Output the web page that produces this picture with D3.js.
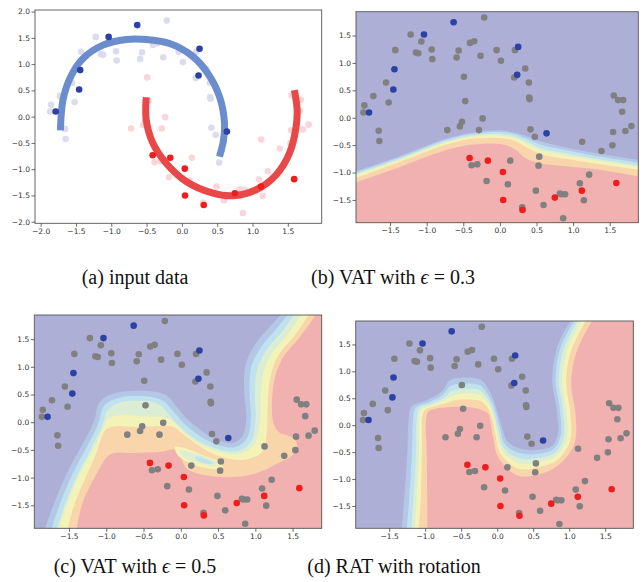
<!DOCTYPE html>
<html>
<head>
<meta charset="utf-8">
<script src="https://cdn.jsdelivr.net/npm/d3@7"></script>
<style>
  body { margin: 0; background: #fff; }
</style>
</head>
<body>
<svg width="642" height="582"></svg>
<script>
// ---- data ----

// labelled points
var labeledBlue = [[-1.787,0.097],[-1.455,0.516],[-1.44,0.886],[-1.037,1.518],[-0.632,1.743],[0.25,1.293],[0.236,0.783],[0.637,-0.285]];
var labeledRed = [[-0.414,-0.735],[-0.164,-0.783],[0.041,-0.99],[0.045,-1.50],[0.309,-1.682],[0.75,-1.457],[1.119,-1.33],[1.59,-1.19]];

// unlabelled points, upper moon / lower moon
var unlabeledUpper = [[-0.214,1.828],[-1.219,1.518],[-1.073,1.39],[-1.146,1.19],[-1.114,1.178],[-1.428,1.233],[-0.932,1.245],[-0.923,1.069],
  [-1.555,0.644],[-1.519,0.279],[-1.728,0.395],[-1.851,0.225],[-1.864,0.097],[-1.655,-0.237],[-1.646,-0.425],[-0.564,1.226],[-0.591,1.099],
  [-0.409,1.366],[-0.35,1.396],[-0.264,1.129],[-0.045,1.233],[0.014,1.038],[0.205,1.233],[0.196,0.735],[0.346,0.899],[0.396,0.644],
  [0.40,0.37],[0.405,0.34],[0.418,-0.212],[0.477,-0.346],[0.537,-0.71],[0.528,-0.874]];
var unlabeledLower = [[-0.491,0.747],[-0.473,0.304],[-0.518,-0.073],[-0.546,-0.158],[-0.718,-0.225],[-0.236,-0.012],[-0.286,-0.225],
  [-0.387,-0.868],[-0.309,-0.85],[-0.182,-1.154],[0.141,-0.783],[0.109,-1.214],[0.491,-1.33],[0.596,-1.591],[0.305,-1.633],[0.819,-1.384],
  [0.841,-1.396],[0.891,-1.396],[0.864,-1.834],[1.091,-1.196],[1.146,-1.506],[1.219,-1.038],[1.123,-0.437],[1.387,-0.607],[1.537,-0.504],
  [1.546,-0.261],[1.555,0.407],[1.614,0.322],[1.683,0.322],[1.669,0.109],[1.714,-0.243],[1.796,-0.152]];

// guide arcs of panel (a)
var blueArc = [[-1.72,-0.26],[-1.684,0.316],[-1.58,0.747],[-1.40,1.108],[-1.118,1.361],[-0.788,1.468],[-0.505,1.468],[-0.175,1.392],
  [0.132,1.171],[0.368,0.823],[0.533,0.38],[0.604,-0.127],[0.59,-0.443],[0.533,-0.76]];
var redArc = [[-0.505,0.367],[-0.505,-0.063],[-0.41,-0.506],[-0.222,-0.886],[0.061,-1.234],[0.439,-1.456],[0.722,-1.506],[1.052,-1.392],
  [1.335,-1.108],[1.524,-0.696],[1.618,-0.19],[1.632,0.127],[1.594,0.506]];

// panel (b) level lines: x stations and y of each level
var bX = [-2.1,-1.41,-0.73,-0.36,0,0.2,0.35,0.55,0.86,1.32,2.0];
var bL1 = [-1.03,-0.72,-0.38,-0.27,-0.23,-0.27,-0.33,-0.43,-0.53,-0.65,-0.79];
var bL2 = [-1.06,-0.745,-0.40,-0.29,-0.26,-0.30,-0.37,-0.49,-0.58,-0.70,-0.84];
var bL3 = [-1.09,-0.77,-0.43,-0.32,-0.30,-0.34,-0.42,-0.55,-0.64,-0.75,-0.89];
var bL4 = [-1.11,-0.79,-0.45,-0.34,-0.33,-0.37,-0.46,-0.59,-0.68,-0.78,-0.92];
var bL5 = [-1.16,-0.83,-0.49,-0.38,-0.37,-0.42,-0.53,-0.66,-0.74,-0.84,-0.97];
var bL6 = [-1.24,-0.92,-0.59,-0.49,-0.48,-0.57,-0.74,-0.83,-0.88,-0.94,-1.10];

// panel (c) level lines, bottom edge to top edge
var cL1 = [[-1.845,-2.02],[-1.711,-1.506],[-1.531,-0.932],[-1.352,-0.478],[-1.218,-0.145],[-1.151,0.067],[-1.12,0.278],[-1.039,0.43],[-0.86,0.532],[-0.591,0.569],[-0.322,0.545],[-0.166,0.46],[-0.054,0.278],[0.081,0.067],[0.305,-0.175],[0.528,-0.339],[0.708,-0.375],[0.833,-0.236],[0.878,0.097],[0.851,0.52],[0.864,1.004],[0.976,1.367],[1.2,1.73],[1.42,2.05]];
var cL2 = [[-1.755,-2.02],[-1.63,-1.506],[-1.451,-0.932],[-1.281,-0.496],[-1.155,-0.175],[-1.093,0.024],[-1.061,0.218],[-0.985,0.351],[-0.815,0.448],[-0.591,0.472],[-0.358,0.448],[-0.224,0.375],[-0.107,0.206],[0.045,-0.024],[0.278,-0.266],[0.528,-0.424],[0.734,-0.448],[0.887,-0.29],[0.94,0.085],[0.922,0.508],[0.94,0.974],[1.057,1.319],[1.281,1.682],[1.50,2.05]];
var cL3 = [[-1.684,-2.02],[-1.558,-1.506],[-1.379,-0.932],[-1.218,-0.52],[-1.102,-0.206],[-1.039,-0.012],[-1.003,0.169],[-0.927,0.278],[-0.793,0.363],[-0.591,0.387],[-0.39,0.369],[-0.26,0.29],[-0.152,0.127],[0.013,-0.115],[0.26,-0.357],[0.528,-0.496],[0.761,-0.52],[0.94,-0.357],[1.003,0.048],[0.994,0.49],[1.021,0.944],[1.137,1.277],[1.361,1.64],[1.58,2.05]];
var cL4 = [[-1.657,-2.02],[-1.531,-1.506],[-1.352,-0.932],[-1.191,-0.538],[-1.084,-0.236],[-1.03,-0.073],[-0.972,0.067],[-0.815,0.127],[-0.591,0.109],[-0.367,0.097],[-0.21,0.085],[-0.099,0.006],[0.036,-0.175],[0.26,-0.399],[0.528,-0.538],[0.779,-0.569],[0.976,-0.417],[1.066,0.006],[1.075,0.46],[1.111,0.914],[1.227,1.246],[1.451,1.609],[1.67,2.05]];
var cL5 = [[-1.531,-2.02],[-1.433,-1.506],[-1.254,-0.932],[-1.128,-0.538],[-1.061,-0.266],[-1.003,-0.133],[-0.882,-0.073],[-0.591,-0.085],[-0.322,-0.073],[-0.099,-0.085],[0.081,-0.266],[0.305,-0.478],[0.551,-0.629],[0.842,-0.678],[1.088,-0.538],[1.155,-0.145],[1.169,0.399],[1.209,0.853],[1.312,1.216],[1.536,1.579],[1.77,2.05]];
var cL6 = [[-1.406,-2.02],[-1.33,-1.506],[-1.128,-0.932],[-0.949,-0.581],[-0.636,-0.557],[-0.278,-0.538],[-0.054,-0.508],[0.081,-0.841],[0.349,-0.962],[0.618,-0.992],[0.887,-0.962],[1.111,-0.871],[1.29,-0.75],[1.469,-0.629],[1.558,-0.478],[1.536,-0.327],[1.424,-0.236],[1.312,-0.175],[1.245,-0.024],[1.222,0.339],[1.267,0.823],[1.379,1.186],[1.603,1.549],[1.87,2.05]];
// small island inside the orange zone of (c)
var cIsland1 = [[-0.076,-0.448],[0.081,-0.478],[0.305,-0.599],[0.528,-0.72],[0.564,-0.811],[0.439,-0.847],[0.215,-0.786],[0.036,-0.678],[-0.054,-0.569]];
var cIsland2 = [[-0.009,-0.508],[0.17,-0.557],[0.349,-0.641],[0.492,-0.738],[0.439,-0.793],[0.26,-0.738],[0.081,-0.659],[0,-0.581]];
var cIsland3 = [[0.193,-0.617],[0.327,-0.666],[0.439,-0.738],[0.372,-0.756],[0.237,-0.702]];

// panel (d) level lines, bottom edge to top edge
var dL1 = [[-1.335,-2.05],[-1.294,-1.394],[-1.247,-0.465],[-1.229,0.093],[-1.187,0.353],[-0.98,0.465],[-0.773,0.62],[-0.657,0.836],[-0.426,0.886],[-0.219,0.836],[-0.113,0.651],[-0.034,0.403],[0.058,0],[0.15,-0.31],[0.356,-0.446],[0.589,-0.452],[0.773,-0.372],[0.847,-0.124],[0.819,0.341],[0.764,0.836],[0.819,1.394],[0.966,1.828],[1.096,2.05]];
var dL2 = [[-1.266,-2.05],[-1.224,-1.394],[-1.183,-0.465],[-1.169,0.093],[-1.132,0.328],[-0.952,0.428],[-0.763,0.558],[-0.639,0.737],[-0.426,0.775],[-0.233,0.737],[-0.131,0.576],[-0.048,0.353],[0.035,-0.043],[0.118,-0.366],[0.34,-0.527],[0.589,-0.527],[0.792,-0.434],[0.884,-0.161],[0.865,0.322],[0.81,0.824],[0.865,1.382],[1.013,1.815],[1.142,2.05]];
var dL3 = [[-1.201,-2.05],[-1.164,-1.394],[-1.127,-0.465],[-1.118,0.093],[-1.086,0.31],[-0.925,0.397],[-0.754,0.496],[-0.62,0.638],[-0.426,0.675],[-0.242,0.651],[-0.14,0.502],[-0.062,0.297],[0.012,-0.087],[0.09,-0.421],[0.321,-0.62],[0.589,-0.607],[0.81,-0.502],[0.925,-0.204],[0.911,0.297],[0.856,0.812],[0.911,1.363],[1.059,1.803],[1.188,2.05]];
var dL4 = [[-1.155,-2.05],[-1.118,-1.394],[-1.086,-0.465],[-1.081,0.093],[-1.049,0.291],[-0.902,0.372],[-0.749,0.446],[-0.607,0.551],[-0.426,0.589],[-0.242,0.564],[-0.145,0.434],[-0.071,0.248],[-0.006,-0.124],[0.067,-0.465],[0.307,-0.713],[0.589,-0.682],[0.824,-0.564],[0.967,-0.242],[0.957,0.279],[0.902,0.805],[0.957,1.345],[1.105,1.797],[1.234,2.05]];
var dL5 = [[-1.095,-2.05],[-1.063,-1.394],[-1.044,-0.465],[-1.044,0.093],[-1.012,0.273],[-0.879,0.347],[-0.74,0.397],[-0.588,0.465],[-0.426,0.477],[-0.242,0.452],[-0.14,0.341],[-0.085,0.192],[-0.025,-0.167],[0.044,-0.52],[0.289,-0.805],[0.589,-0.775],[0.842,-0.638],[1.013,-0.285],[1.013,0.248],[0.957,0.793],[1.013,1.326],[1.165,1.784],[1.294,2.05]];
var dL6 = [[-0.971,-2.05],[-0.971,-1.394],[-0.98,-0.465],[-0.989,0.093],[-0.957,0.248],[-0.842,0.31],[-0.726,0.328],[-0.565,0.341],[-0.426,0.341],[-0.242,0.291],[-0.126,0.217],[-0.103,0.124],[-0.057,-0.217],[0.012,-0.589],[0.266,-0.929],[0.589,-0.911],[0.865,-0.725],[1.073,-0.341],[1.087,0.217],[1.027,0.775],[1.087,1.301],[1.243,1.766],[1.373,2.05]];

// tick labels
var ticksA = [-2.0,-1.5,-1.0,-0.5,0.0,0.5,1.0,1.5];
var ticksAy = [-2.0,-1.5,-1.0,-0.5,0.0,0.5,1.0,1.5,2.0];
var ticksB = [-1.5,-1.0,-0.5,0.0,0.5,1.0,1.5];

var captions = ["(a) input data", "(b) VAT with ", "(c) VAT with ", "(d) RAT with rotation"];

// ---- styles ----
var baseColor = "#adafd6";
var bandColors = ["#b3c7e6", "#c0e2ee", "#dbeed4", "#f4f3b7", "#f8d5aa", "#f2b1b1"];

var svg = d3.select("svg");
var fmt = d3.format(".1f");
var clipN = 0;

function makePanel(box, xDom, yDom) {
  var x = d3.scaleLinear().domain(xDom).range([box.l, box.r]);
  var y = d3.scaleLinear().domain(yDom).range([box.b, box.t]);
  var id = "clip" + (clipN++);
  svg.append("clipPath").attr("id", id).append("rect")
    .attr("x", box.l).attr("y", box.t)
    .attr("width", box.r - box.l).attr("height", box.b - box.t);
  var plot = svg.append("g").attr("clip-path", "url(#" + id + ")");
  return { x: x, y: y, box: box, plot: plot };
}

function finishPanel(p, xt, yt) {
  svg.append("rect")
    .attr("x", p.box.l).attr("y", p.box.t)
    .attr("width", p.box.r - p.box.l).attr("height", p.box.b - p.box.t)
    .attr("fill", "none").attr("stroke", "#555").attr("stroke-width", 0.9);
  var ax = svg.append("g").attr("transform", "translate(0," + p.box.b + ")")
    .call(d3.axisBottom(p.x).tickValues(xt).tickFormat(fmt).tickSize(3.5).tickPadding(1.5));
  var ay = svg.append("g").attr("transform", "translate(" + p.box.l + ",0)")
    .call(d3.axisLeft(p.y).tickValues(yt).tickFormat(fmt).tickSize(3.5).tickPadding(1.5));
  [ax, ay].forEach(function (a) {
    a.attr("font-size", 7.5).attr("font-family", "DejaVu Sans, sans-serif");
    a.select(".domain").remove();
    a.selectAll("line").attr("stroke", "#444").attr("stroke-width", 0.8);
    a.selectAll("text").attr("fill", "#333");
  });
}

function drawBands(p, levels, corners) {
  p.plot.append("rect")
    .attr("x", p.box.l).attr("y", p.box.t)
    .attr("width", p.box.r - p.box.l).attr("height", p.box.b - p.box.t)
    .attr("fill", baseColor);
  var line = d3.line().x(function (d) { return p.x(d[0]); }).y(function (d) { return p.y(d[1]); })
    .curve(d3.curveCatmullRom.alpha(0.5));
  levels.forEach(function (pts, i) {
    var path = line(pts) + corners.map(function (c) { return "L" + p.x(c[0]) + "," + p.y(c[1]); }).join("") + "Z";
    p.plot.append("path").attr("d", path).attr("fill", bandColors[i]);
  });
}

function drawBlob(p, pts, color) {
  var line = d3.line().x(function (d) { return p.x(d[0]); }).y(function (d) { return p.y(d[1]); })
    .curve(d3.curveCatmullRomClosed.alpha(0.5));
  p.plot.append("path").attr("d", line(pts)).attr("fill", color);
}

function drawPoints(p, data, color, r) {
  p.plot.append("g").selectAll("circle")
    .data(data).enter().append("circle")
    .attr("cx", function (d) { return p.x(d[0]); })
    .attr("cy", function (d) { return p.y(d[1]); })
    .attr("r", r)
    .attr("fill", color);
}

function drawAllPoints(p) {
  drawPoints(p, unlabeledUpper.concat(unlabeledLower), "#808080", 3.3);
  drawPoints(p, labeledBlue, "#2b41a3", 3.3);
  drawPoints(p, labeledRed, "#f01d1d", 3.3);
}

var domX = [-1.965, 1.89], domY = [-1.915, 1.935];

// (a) input data
var pa = makePanel({ l: 35, r: 321.7, t: 10, b: 223.3 }, [-2.08, 1.98], [-2.03, 2.03]);
drawPoints(pa, unlabeledUpper, "#dcdcef", 3.3);
drawPoints(pa, unlabeledLower, "#fad5d9", 3.3);
var arcLine = d3.line().x(function (d) { return pa.x(d[0]); }).y(function (d) { return pa.y(d[1]); })
  .curve(d3.curveCatmullRom.alpha(0.5));
pa.plot.append("path").attr("d", arcLine(blueArc)).attr("fill", "none")
  .attr("stroke", "#6b8dcd").attr("stroke-width", 7);
pa.plot.append("path").attr("d", arcLine(redArc)).attr("fill", "none")
  .attr("stroke", "#e84848").attr("stroke-width", 7);
drawPoints(pa, labeledBlue, "#2b41a3", 3.3);
drawPoints(pa, labeledRed, "#f01d1d", 3.3);
finishPanel(pa, ticksA, ticksAy);

// (b) VAT eps 0.3
var pb = makePanel({ l: 356, r: 638.3, t: 11.7, b: 222.7 }, domX, domY);
var bLevels = [bL1, bL2, bL3, bL4, bL5, bL6].map(function (ys) {
  return ys.map(function (v, i) { return [bX[i], v]; });
});
drawBands(pb, bLevels, [[2.4, -2.4], [-2.4, -2.4]]);
drawAllPoints(pb);
finishPanel(pb, ticksB, ticksB);

// (c) VAT eps 0.5
var pc = makePanel({ l: 34.3, r: 321.7, t: 315, b: 528.3 }, domX, domY);
drawBands(pc, [cL1, cL2, cL3, cL4, cL5, cL6], [[2.4, 2.4], [2.4, -2.4]]);
drawBlob(pc, cIsland1, bandColors[3]);
drawBlob(pc, cIsland2, bandColors[2]);
drawBlob(pc, cIsland3, bandColors[1]);
drawAllPoints(pc);
finishPanel(pc, ticksB, ticksB);

// (d) RAT with rotation
var pd = makePanel({ l: 355.7, r: 633.3, t: 321, b: 528.3 }, domX, domY);
drawBands(pd, [dL1, dL2, dL3, dL4, dL5, dL6], [[2.4, 2.4], [2.4, -2.4]]);
drawAllPoints(pd);
finishPanel(pd, ticksB, ticksB);

// captions
var capPos = [[135, 284], [393, 284], [135, 573], [394, 573]];
var capEps = [null, "0.3", "0.5", null];
captions.forEach(function (c, i) {
  var t = svg.append("text")
    .attr("x", capPos[i][0]).attr("y", capPos[i][1])
    .attr("text-anchor", "middle")
    .attr("font-family", "Liberation Serif, Times New Roman, serif")
    .attr("font-size", 20).attr("fill", "#111");
  t.append("tspan").text(c);
  if (capEps[i]) {
    t.append("tspan").attr("font-style", "italic").text("\u03f5");
    t.append("tspan").text(" = " + capEps[i]);
  }
});
</script>
</body>
</html>
